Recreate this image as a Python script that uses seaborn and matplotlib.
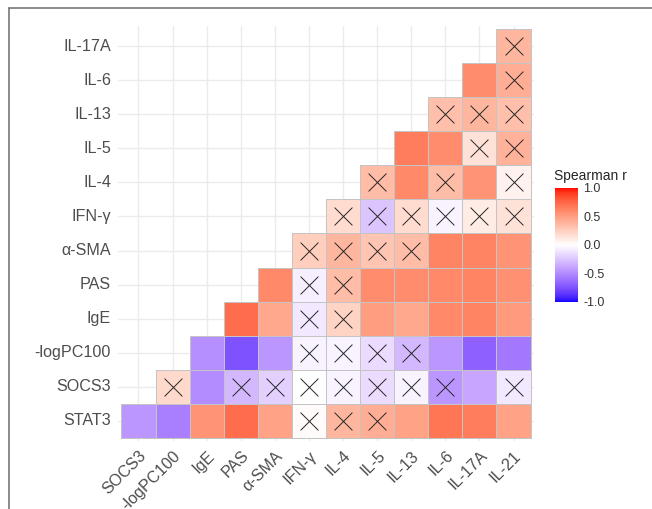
import numpy as np
import pandas as pd
import matplotlib
matplotlib.use("Agg")
import matplotlib.pyplot as plt
import seaborn as sns
from matplotlib.colors import ListedColormap, to_rgba
from matplotlib.lines import Line2D

# variables (rows bottom->top, columns left->right)
row_labels = ["STAT3", "SOCS3", "-logPC100", "IgE", "PAS", "α-SMA",
              "IFN-γ", "IL-4", "IL-5", "IL-13", "IL-6", "IL-17A"]
col_labels = ["SOCS3", "-logPC100", "IgE", "PAS", "α-SMA", "IFN-γ",
              "IL-4", "IL-5", "IL-13", "IL-6", "IL-17A", "IL-21"]

# Spearman r, each row starts at the diagonal column
r_stat3 = [-0.45, -0.55, 0.55, 0.72, 0.48, 0.02, 0.38, 0.42, 0.48, 0.68, 0.65, 0.48]
r_socs3 = [0.20, -0.50, -0.30, -0.20, 0.00, -0.05, -0.15, -0.05, -0.45, -0.38, -0.10]
r_logpc = [-0.48, -0.75, -0.45, -0.05, -0.05, -0.15, -0.30, -0.45, -0.68, -0.58]
r_ige = [0.72, 0.45, -0.10, 0.22, 0.50, 0.45, 0.60, 0.62, 0.52]
r_pas = [0.60, -0.07, 0.35, 0.58, 0.58, 0.60, 0.62, 0.57]
r_sma = [0.25, 0.38, 0.30, 0.35, 0.62, 0.62, 0.55]
r_ifng = [0.18, -0.25, 0.18, -0.05, 0.10, 0.15]
r_il4 = [0.35, 0.60, 0.35, 0.55, 0.07]
r_il5 = [0.65, 0.58, 0.15, 0.40]
r_il13 = [0.33, 0.38, 0.33]
r_il6 = [0.58, 0.42]
r_il17a = [0.38]
values = [r_stat3, r_socs3, r_logpc, r_ige, r_pas, r_sma,
          r_ifng, r_il4, r_il5, r_il13, r_il6, r_il17a]

# non-significant cells (crossed), same layout as values
x_stat3 = [0, 0, 0, 0, 0, 1, 1, 1, 0, 0, 0, 0]
x_socs3 = [1, 0, 1, 1, 1, 1, 1, 1, 1, 0, 1]
x_logpc = [0, 0, 0, 1, 1, 1, 1, 0, 0, 0]
x_ige = [0, 0, 1, 1, 0, 0, 0, 0, 0]
x_pas = [0, 1, 1, 0, 0, 0, 0, 0]
x_sma = [1, 1, 1, 1, 0, 0, 0]
x_ifng = [1, 1, 1, 1, 1, 1]
x_il4 = [1, 0, 1, 0, 1]
x_il5 = [0, 0, 1, 1]
x_il13 = [1, 1, 1]
x_il6 = [0, 1]
x_il17a = [1]
crosses = [x_stat3, x_socs3, x_logpc, x_ige, x_pas, x_sma,
           x_ifng, x_il4, x_il5, x_il13, x_il6, x_il17a]

n = len(col_labels)
mat = np.full((n, n), np.nan)
for i, row in enumerate(values):
    mat[i, i:] = row
# heatmap draws first row on top
df = pd.DataFrame(mat[::-1], index=row_labels[::-1], columns=col_labels)
mask = df.isna().values


# blue-white-red gradient interpolated in Lab, like ggplot's gradient2
def to_lab(rgb):
    c = np.array(rgb, float)
    c = np.where(c <= 0.04045, c / 12.92, ((c + 0.055) / 1.055) ** 2.4)
    M = np.array([[0.4124564, 0.3575761, 0.1804375],
                  [0.2126729, 0.7151522, 0.0721750],
                  [0.0193339, 0.1191920, 0.9503041]])
    xyz = M @ c / np.array([0.95047, 1.0, 1.08883])
    f = np.where(xyz > (6 / 29) ** 3, np.cbrt(xyz), xyz / (3 * (6 / 29) ** 2) + 4 / 29)
    return np.array([116 * f[1] - 16, 500 * (f[0] - f[1]), 200 * (f[1] - f[2])])


def from_lab(lab):
    L, a, b = lab
    fy = (L + 16) / 116
    f = np.array([fy + a / 500, fy, fy - b / 200])
    xyz = np.where(f > 6 / 29, f ** 3, 3 * (6 / 29) ** 2 * (f - 4 / 29))
    xyz = xyz * np.array([0.95047, 1.0, 1.08883])
    Minv = np.array([[3.2404542, -1.5371385, -0.4985314],
                     [-0.9692660, 1.8760108, 0.0415560],
                     [0.0556434, -0.2040259, 1.0572252]])
    c = np.clip(Minv @ xyz, 0, 1)
    c = np.where(c <= 0.0031308, 12.92 * c, 1.055 * c ** (1 / 2.4) - 0.055)
    return np.clip(c, 0, 1)


lab_blue, lab_white, lab_red = to_lab([0, 0, 1]), to_lab([1, 1, 1]), to_lab([1, 0, 0])
cols = []
for t in np.linspace(-1, 1, 256):
    if t < 0:
        lab = lab_white + (lab_blue - lab_white) * (-t)
    else:
        lab = lab_white + (lab_red - lab_white) * t
    cols.append(from_lab(lab))
cmap = ListedColormap(cols)

sns.set_style("white")
plt.rcParams["font.family"] = ["Liberation Sans", "DejaVu Sans"]

fig = plt.figure(figsize=(6.52, 5.09), dpi=100)
ax = fig.add_axes([118 / 652, 1 - 441 / 509, 416 / 652, 415 / 509])
cax = fig.add_axes([555 / 652, 1 - 302 / 509, 23 / 652, 114 / 509])

sns.heatmap(df, ax=ax, cbar_ax=cax, cmap=cmap, vmin=-1, vmax=1,
            mask=mask, linewidths=0.5, linecolor="#C4C4C4", square=False)

# no outlines on the empty upper triangle
mesh = ax.collections[0]
edge = np.array([to_rgba("#C4C4C4")] * mask.size)
edge[mask.ravel()] = (0, 0, 0, 0)
mesh.set_edgecolor(edge)

# crosses for non-significant correlations
xs, ys = [], []
for i, row in enumerate(crosses):
    for k, flag in enumerate(row):
        if flag:
            xs.append(i + k + 0.5)
            ys.append(n - 1 - i + 0.5)
ax.scatter(xs, ys, marker="x", s=165, color="#262626", linewidths=0.7, zorder=5)

ax.set_xlim(-0.1, n + 0.1)
ax.set_ylim(n + 0.1, -0.1)
ax.set_axisbelow(True)
ax.grid(True, color="#EBEBEB", linewidth=1.0)
ax.set_xlabel("")
ax.set_ylabel("")
ax.tick_params(length=0, pad=5, labelsize=11.6, labelcolor="#4D4D4D")
plt.setp(ax.get_yticklabels(), rotation=0)
plt.setp(ax.get_xticklabels(), rotation=45, ha="right", rotation_mode="anchor")
for s in ax.spines.values():
    s.set_visible(False)

cax.set_yticks([-1, -0.5, 0, 0.5, 1])
cax.set_yticklabels(["-1.0", "-0.5", "0.0", "0.5", "1.0"])
cax.tick_params(axis="y", direction="in", length=5, color="white", width=0.8,
                labelsize=9, labelcolor="#333333", pad=4)
for s in cax.spines.values():
    s.set_visible(False)
cax.set_title("Spearman r", fontsize=10, loc="left", pad=6, x=-0.05)

# outer frame lines
fig.add_artist(Line2D([9 / 652, 1], [1 - 8 / 509, 1 - 8 / 509], color="#777777", lw=1.2))
fig.add_artist(Line2D([9 / 652, 9 / 652], [0, 1 - 8 / 509], color="#777777", lw=1.2))

fig.savefig("out.png", dpi=100)
